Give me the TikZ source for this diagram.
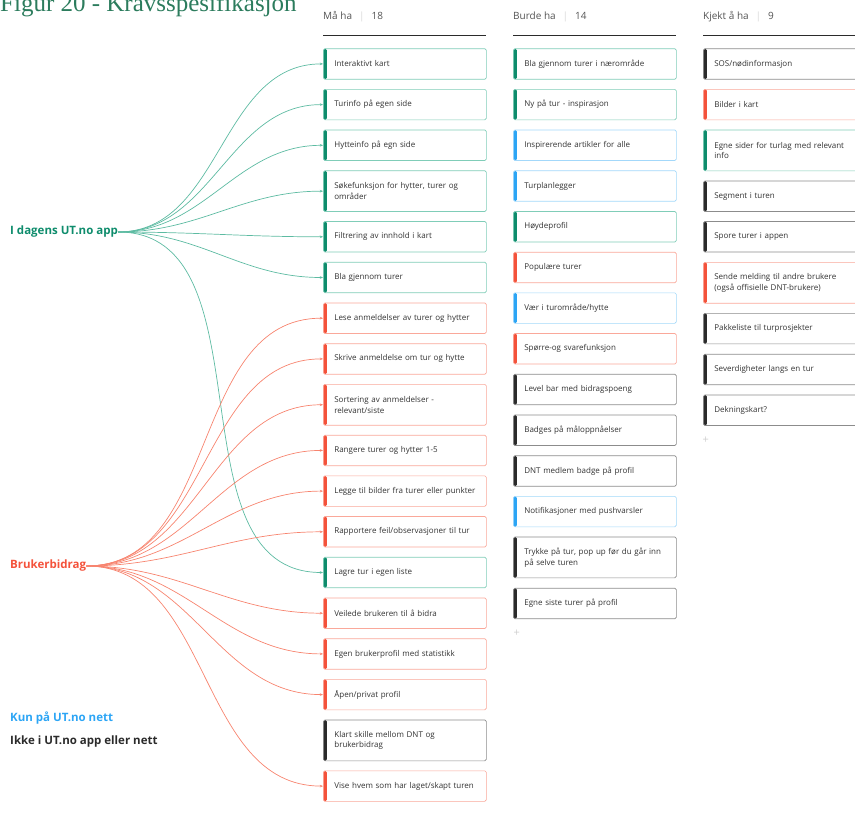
\documentclass[tikz,border=0pt]{standalone}
\usepackage{fontspec}
\setmainfont{Open Sans}
\newfontfamily\titlefont{Liberation Serif}
\usetikzlibrary{arrows.meta,positioning}

\definecolor{grn}{HTML}{0E8C6C}
\definecolor{grnlight}{HTML}{80CDB8}
\definecolor{grnline}{HTML}{5DBBA2}
\definecolor{rd}{HTML}{F4523B}
\definecolor{rdlight}{HTML}{FAA89A}
\definecolor{rdline}{HTML}{F7846F}
\definecolor{blu}{HTML}{2CA5F5}
\definecolor{blulight}{HTML}{A3D8FA}
\definecolor{blk}{HTML}{2B2B2B}
\definecolor{blklight}{HTML}{8C8C8C}
\definecolor{txt}{HTML}{333333}
\definecolor{hdr}{HTML}{555555}
\definecolor{sep}{HTML}{D8D8D8}
\definecolor{titlegrn}{HTML}{2C7C5D}

\tikzset{
  card/.style 2 args={draw=#2, line width=0.7pt, fill=white, rounded corners=1.5pt,
    anchor=north west, minimum height=30.5pt, text width=141pt, inner xsep=11pt,
    align=left, text=txt, font=\fontsize{8}{10.7}\selectfont,
    path picture={\fill[#1] (path picture bounding box.south west) rectangle ([xshift=3.5pt]path picture bounding box.north west);}},
  gcard/.style={card={grn}{grnlight}},
  rcard/.style={card={rd}{rdlight}},
  bcard/.style={card={blu}{blulight}},
  kcard/.style={card={blk}{blklight}},
  tall/.style={minimum height=40.8pt},
  colhead/.style={anchor=west, inner sep=0pt, text=hdr, font=\fontsize{10}{12}\selectfont},
  legend/.style={anchor=west, inner sep=0pt, font=\bfseries\fontsize{11.5}{13}\selectfont},
  plus/.style={inner sep=0pt, text=sep!90!gray, font=\fontsize{11}{12}\selectfont},
  gline/.style={draw=grnline, line width=0.7pt, ->},
  rline/.style={draw=rdline, line width=0.7pt, ->},
  >={Stealth[length=3.2pt,width=2.6pt]}
}

\begin{document}
\begin{tikzpicture}[x=1pt, y=-1pt]
    \useasboundingbox (0,0) rectangle (855,814);
    \clip (0,0) rectangle (855,814);

    \node[anchor=base west, inner sep=0pt, text=titlegrn, font=\titlefont\fontsize{25}{27}\selectfont] (title) at (0,11) {Figur 20 - Kravsspesifikasjon};

    % column heads
    \node[colhead] (hma) at (323,17) {Må ha\hspace{7pt}{\color{sep}|}\hspace{7pt}18};
    \node[colhead] (hbu) at (513,17) {Burde ha\hspace{7pt}{\color{sep}|}\hspace{7pt}14};
    \node[colhead] (hkj) at (703,17) {Kjekt å ha\hspace{7pt}{\color{sep}|}\hspace{7pt}9};
    \draw[blk, line width=1pt] (323,35) -- (486,35);
    \draw[blk, line width=1pt] (513,35) -- (676,35);
    \draw[blk, line width=1pt] (703,35) -- (866,35);

    % Maa ha
    \node[gcard] (m1) at (323,48.3) {Interaktivt kart};
    \node[gcard] (m2) at (323,89) {Turinfo på egen side};
    \node[gcard] (m3) at (323,129.7) {Hytteinfo på egn side};
    \node[gcard, tall] (m4) at (323,170.4) {Søkefunksjon for hytter, turer og\\områder};
    \node[gcard] (m5) at (323,221.2) {Filtrering av innhold i kart};
    \node[gcard] (m6) at (323,261.9) {Bla gjennom turer};
    \node[rcard] (m7) at (323,302.6) {Lese anmeldelser av turer og hytter};
    \node[rcard] (m8) at (323,343.3) {Skrive anmeldelse om tur og hytte};
    \node[rcard, tall] (m9) at (323,384) {Sortering av anmeldelser -\\relevant/siste};
    \node[rcard] (m10) at (323,434.8) {Rangere turer og hytter 1-5};
    \node[rcard] (m11) at (323,475.5) {\mbox{Legge til bilder fra turer eller punkter}};
    \node[rcard] (m12) at (323,516.2) {Rapportere feil/observasjoner til tur};
    \node[gcard] (m13) at (323,556.9) {Lagre tur i egen liste};
    \node[rcard] (m14) at (323,597.6) {Veilede brukeren til å bidra};
    \node[rcard] (m15) at (323,638.3) {Egen brukerprofil med statistikk};
    \node[rcard] (m16) at (323,679) {Åpen/privat profil};
    \node[kcard, tall] (m17) at (323,719.7) {Klart skille mellom DNT og\\brukerbidrag};
    \node[rcard] (m18) at (323,770.5) {Vise hvem som har laget/skapt turen};

    % Burde ha
    \node[gcard] (b1) at (513,48.3) {Bla gjennom turer i nærområde};
    \node[gcard] (b2) at (513,89) {Ny på tur - inspirasjon};
    \node[bcard] (b3) at (513,129.7) {Inspirerende artikler for alle};
    \node[bcard] (b4) at (513,170.4) {Turplanlegger};
    \node[gcard] (b5) at (513,211.1) {Høydeprofil};
    \node[rcard] (b6) at (513,251.8) {Populære turer};
    \node[bcard] (b7) at (513,292.5) {Vær i turområde/hytte};
    \node[rcard] (b8) at (513,333.2) {Spørre-og svarefunksjon};
    \node[kcard] (b9) at (513,373.9) {Level bar med bidragspoeng};
    \node[kcard] (b10) at (513,414.6) {Badges på måloppnåelser};
    \node[kcard] (b11) at (513,455.3) {DNT medlem badge på profil};
    \node[bcard] (b12) at (513,496) {Notifikasjoner med pushvarsler};
    \node[kcard, tall] (b13) at (513,536.7) {Trykke på tur, pop up før du går inn\\på selve turen};
    \node[kcard] (b14) at (513,587.8) {Egne siste turer på profil};
    \node[plus] (bplus) at (516.7,633.3) {+};

    % Kjekt aa ha
    \node[kcard] (k1) at (703,48.3) {SOS/nødinformasjon};
    \node[rcard] (k2) at (703,89) {Bilder i kart};
    \node[gcard, tall] (k3) at (703,129.7) {Egne sider for turlag med relevant\\info};
    \node[kcard] (k4) at (703,180.7) {Segment i turen};
    \node[kcard] (k5) at (703,221.2) {Spore turer i appen};
    \node[rcard, tall] (k6) at (703,262) {Sende melding til andre brukere\\(også offisielle DNT-brukere)};
    \node[kcard] (k7) at (703,313) {Pakkeliste til turprosjekter};
    \node[kcard] (k8) at (703,353.8) {Severdigheter langs en tur};
    \node[kcard] (k9) at (703,394.6) {Dekningskart?};
    \node[plus] (kplus) at (705.7,440.7) {+};

    % legend
    \node[legend, text=grn] (app) at (10,232) {I dagens UT.no app};
    \node[legend, text=rd] (bidrag) at (10,566) {Brukerbidrag};
    \node[legend, text=blu] (nett) at (10,718) {Kun på UT.no nett};
    \node[legend, text=blk] (ingen) at (10,742) {Ikke i UT.no app eller nett};

    % connectors
    \draw[gline] (app.east) to[out=0,in=180] (m1.west);
    \draw[gline] (app.east) to[out=0,in=180] (m2.west);
    \draw[gline] (app.east) to[out=0,in=180] (m3.west);
    \draw[gline] (app.east) to[out=0,in=180] (m4.west);
    \draw[gline] (app.east) to[out=0,in=180] (m5.west);
    \draw[gline] (app.east) to[out=0,in=180] (m6.west);
    \draw[gline] (app.east) to[out=0,in=180] (m13.west);

    \draw[rline] (bidrag.east) to[out=0,in=180] (m7.west);
    \draw[rline] (bidrag.east) to[out=0,in=180] (m8.west);
    \draw[rline] (bidrag.east) to[out=0,in=180] (m9.west);
    \draw[rline] (bidrag.east) to[out=0,in=180] (m10.west);
    \draw[rline] (bidrag.east) to[out=0,in=180] (m11.west);
    \draw[rline] (bidrag.east) to[out=0,in=180] (m12.west);
    \draw[rline] (bidrag.east) to[out=0,in=180] (m14.west);
    \draw[rline] (bidrag.east) to[out=0,in=180] (m15.west);
    \draw[rline] (bidrag.east) to[out=0,in=180] (m16.west);
    \draw[rline] (bidrag.east) to[out=0,in=180] (m18.west);
\end{tikzpicture}
\end{document}
